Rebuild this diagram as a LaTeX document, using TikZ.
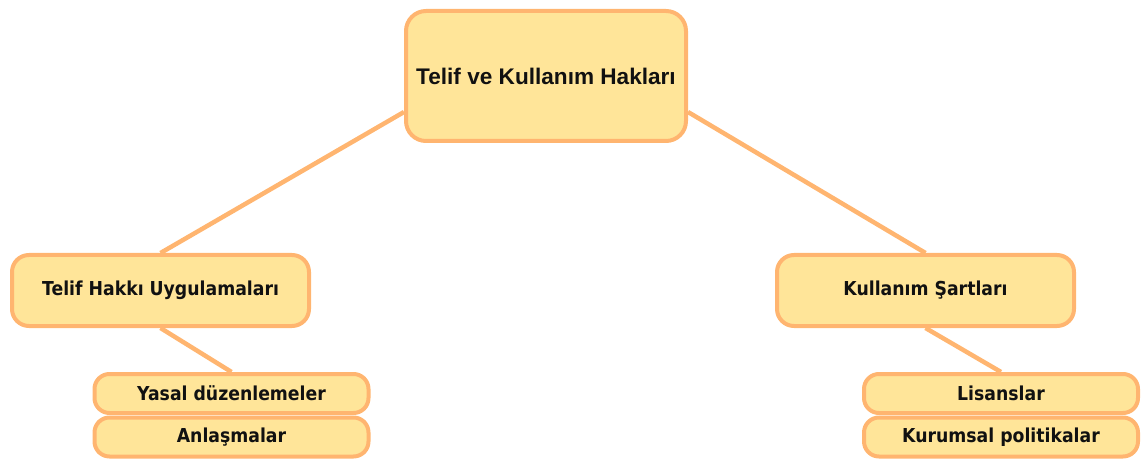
\documentclass[tikz,border=0pt]{standalone}
\usepackage{fontspec}
\setmainfont{Liberation Sans}
\newfontfamily\boxfont[FakeStretch=0.9]{DejaVu Sans}
\usetikzlibrary{calc,backgrounds}
\definecolor{boxfill}{HTML}{FFE599}
\definecolor{boxline}{HTML}{FFB570}
\definecolor{txt}{HTML}{111111}
\tikzset{
  basebox/.style={draw=boxline, fill=boxfill, line width=4pt, inner sep=0pt, text=txt},
  rootbox/.style={basebox, rounded corners=20pt, minimum width=280pt, minimum height=130pt, font=\fontsize{22.6}{26}\selectfont\bfseries},
  midbox/.style={basebox, rounded corners=17pt, minimum width=297pt, minimum height=71pt, font=\boxfont\fontsize{19.2}{22}\selectfont\bfseries},
  leafbox/.style={basebox, rounded corners=15pt, minimum width=274pt, minimum height=39pt, font=\boxfont\fontsize{19.2}{22}\selectfont\bfseries},
  link/.style={draw=boxline, line width=4.5pt}
}
\begin{document}
\begin{tikzpicture}[x=1pt,y=-1pt]
\useasboundingbox (0,0) rectangle (1143,462);
\node[rootbox] (root) at (546,76) {Telif ve Kullanım Hakları};
\node[midbox] (lmid) at (160.5,290.5) {Telif Hakkı Uygulamaları};
\node[midbox] (rmid) at (925.5,290.5) {Kullanım Şartları};
\node[leafbox] (l1) at (231.5,393.5) {Yasal düzenlemeler};
\node[leafbox] (l2) at (231.5,437) {Anlaşmalar};
\node[leafbox] (r1) at (1001,393.5) {Lisanslar};
\node[leafbox] (r2) at (1001,437) {Kurumsal politikalar};
\begin{scope}[on background layer]
\draw[link] ($(root.west)+(0,36)$) -- (lmid.north);
\draw[link] ($(root.east)+(0,36)$) -- (rmid.north);
\draw[link] (lmid.south) -- (l1.north);
\draw[link] (rmid.south) -- (r1.north);
\end{scope}
\end{tikzpicture}
\end{document}
